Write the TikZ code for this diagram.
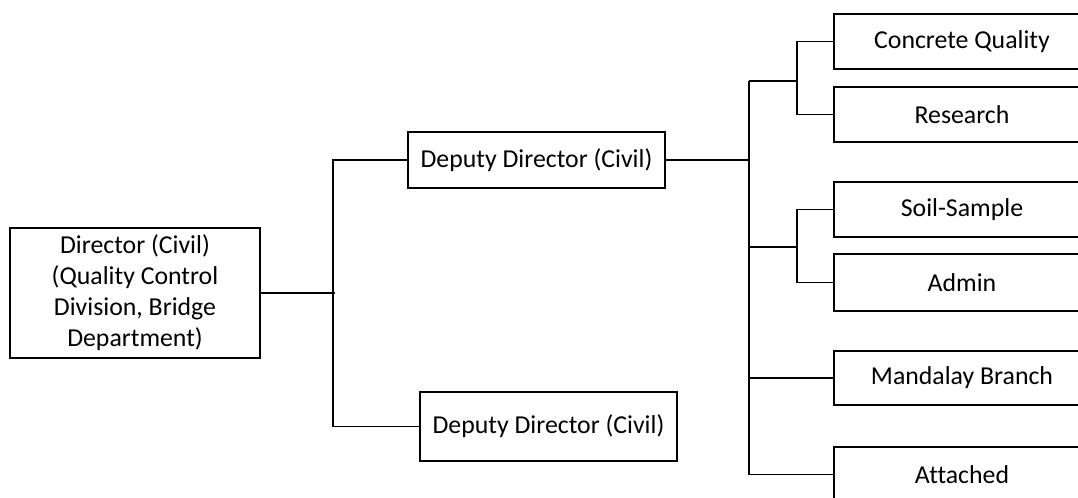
\documentclass[tikz,border=0pt]{standalone}
\usepackage{fontspec}
\setmainfont[Ligatures=NoCommon]{Carlito}
\begin{document}
\begin{tikzpicture}[x=0.5pt,y=-0.5pt,
  box/.style={draw,line width=0.9pt,inner sep=0pt,align=center,
    font=\fontsize{12.9}{15.5}\selectfont},
  conn/.style={line width=0.9pt}]
\useasboundingbox (0,0) rectangle (1078,498);
\clip (0,0) rectangle (1078,498);
% nodes
\node[box,minimum width=125pt,minimum height=65pt] (dir) at (135,293)
  {Director (Civil)\\(Quality Control\\Division, Bridge\\Department)};
\node[box,minimum width=128.5pt,minimum height=28pt] (dd1) at (536.5,160) {Deputy Director (Civil)};
\node[box,minimum width=128.5pt,minimum height=34.5pt] (dd2) at (548.5,426.5) {Deputy Director (Civil)};
\node[box,minimum width=128pt,minimum height=27.5pt] (cq) at (962,41.5) {Concrete Quality};
\node[box,minimum width=128pt,minimum height=27.5pt] (rs) at (962,114.5) {Research};
\node[box,minimum width=128pt,minimum height=27.5pt] (ss) at (962,209.5) {Soil-Sample};
\node[box,minimum width=128pt,minimum height=28.5pt] (ad) at (962,282.5) {Admin};
\node[box,minimum width=128pt,minimum height=27pt] (mb) at (962,378) {Mandalay Branch};
\node[box,minimum width=128pt,minimum height=27.5pt] (att) at (962,474.5) {Attached};
% junction coordinates
\coordinate (jx) at (333,0);
\coordinate (ba) at (749,81);
\coordinate (sa) at (797,81);
\coordinate (bb) at (749,247);
\coordinate (sb) at (797,247);
% left connectors
\draw[conn] (dir.east) -- ([xshift=1pt]dir.east -| jx);
\draw[conn] (dd1.west) -| (jx |- dd2.west) -- (dd2.west);
% right connectors
\draw[conn] (dd1.east) -- (dd1.east -| ba);
\draw[conn] (ba) |- (att.west);
\draw[conn] (mb.west) -- (mb.west -| ba);
\draw[conn] (ba) -- (sa);
\draw[conn] (bb) -- (sb);
\draw[conn] (cq.west) -| (sa) |- (rs.west);
\draw[conn] (ss.west) -| (sb) |- (ad.west);
\end{tikzpicture}
\end{document}
